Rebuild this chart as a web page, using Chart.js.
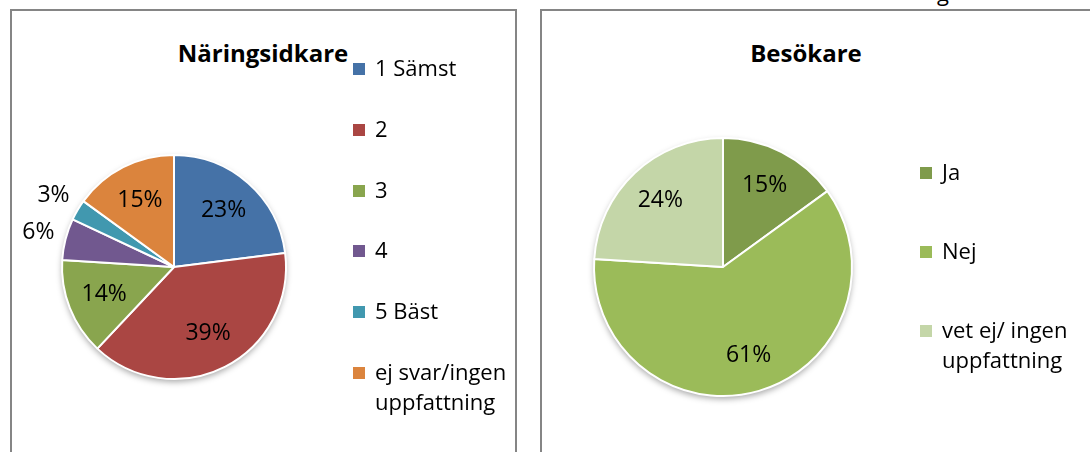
<!DOCTYPE html>
<html>
<head>
<meta charset="utf-8">
<script src="https://cdn.jsdelivr.net/npm/chart.js@4.4.0/dist/chart.umd.min.js"></script>
<style>
  body { margin:0; width:1090px; height:452px; overflow:hidden; background:#fff; position:relative; font-family:"Open Sans", sans-serif; color:#000; }
  .box { position:absolute; top:9px; height:480px; border:2px solid #858585; box-sizing:border-box; }
  #boxL { left:10px; width:507px; }
  #boxR { left:540px; width:600px; }
  .title { position:absolute; top:38px; font-size:24px; line-height:30px; font-weight:bold; text-align:center; }
  .item { position:absolute; font-size:22px; line-height:30px; padding-left:22px; max-width:150px; }
  .item .sw { position:absolute; left:0; top:11px; width:12px; height:12px; }
  canvas { position:absolute; }
  #cut { position:absolute; left:937px; top:-19px; font-size:22px; line-height:22px; font-family:"Open Sans", sans-serif; }
</style>
</head>
<body>
<div id="cut">g</div>
<div class="box" id="boxL"></div>
<div class="box" id="boxR"></div>
<div class="title" style="left:12px; width:502px;">Näringsidkare</div>
<div class="title" style="left:542px; width:528px;">Besökare</div>
<canvas id="chartL" width="502" height="441" style="left:12px; top:11px;"></canvas>
<canvas id="chartR" width="548" height="441" style="left:542px; top:11px;"></canvas>
<div id="legendL"></div>
<div id="legendR"></div>
<script>
// Näringsidkare
var naringLabels = ['1 Sämst', '2', '3', '4', '5 Bäst', 'ej svar/ingen uppfattning'];
var naringValues = [23, 39, 14, 6, 3, 15];
var naringColors = ['#4572A7', '#AA4643', '#89A54E', '#71588F', '#4198AF', '#DB843D'];

// Besökare
var besokLabels = ['Ja', 'Nej', 'vet ej/ ingen uppfattning'];
var besokValues = [15, 61, 24];
var besokColors = ['#7F9B4B', '#9BBB59', '#C4D6A8'];

var pieShadow = {
    id: 'pieShadow',
    beforeDatasetsDraw: function (chart) {
        var arc = chart.getDatasetMeta(0).data[0];
        if (!arc) return;
        var ctx = chart.ctx;
        ctx.save();
        ctx.shadowColor = 'rgba(0,0,0,0.35)';
        ctx.shadowBlur = 6;
        ctx.shadowOffsetY = 3;
        ctx.fillStyle = '#fff';
        ctx.beginPath();
        ctx.arc(arc.x, arc.y, arc.outerRadius, 0, Math.PI * 2);
        ctx.fill();
        ctx.restore();
    }
};

var pctLabels = {
    id: 'pctLabels',
    afterDatasetsDraw: function (chart, args, opts) {
        var ctx = chart.ctx;
        var meta = chart.getDatasetMeta(0);
        var values = chart.data.datasets[0].data;
        var total = values.reduce(function (a, b) { return a + b; }, 0);
        ctx.save();
        ctx.font = '23px "Open Sans", sans-serif';
        ctx.fillStyle = '#000';
        ctx.textAlign = 'center';
        ctx.textBaseline = 'middle';
        meta.data.forEach(function (arc, i) {
            var p = values[i] / total;
            var mid = (arc.startAngle + arc.endAngle) / 2;
            var r = arc.outerRadius * (p < 0.08 ? opts.outside : opts.inside);
            ctx.fillText(Math.round(p * 100) + '%', arc.x + Math.cos(mid) * r, arc.y + Math.sin(mid) * r);
        });
        ctx.restore();
    }
};

function grafico(id, labels, values, colors, padding, inside) {
    var ctx = document.getElementById(id);
    return new Chart(ctx, {
        type: 'pie',
        data: {
            labels: labels,
            datasets: [{
                data: values,
                backgroundColor: colors,
                borderColor: '#fff',
                borderWidth: 2
            }]
        },
        options: {
            responsive: false,
            animation: false,
            layout: { padding: padding },
            plugins: {
                legend: { display: false },
                tooltip: { enabled: false },
                pctLabels: { inside: inside, outside: 1.25 }
            }
        },
        plugins: [pieShadow, pctLabels]
    });
}

function legend(chart, id, left, top, pitch) {
    var el = document.getElementById(id);
    var items = chart.options.plugins.legend.labels.generateLabels(chart);
    items.forEach(function (it, i) {
        var d = document.createElement('div');
        d.className = 'item';
        d.style.left = left + 'px';
        d.style.top = (top + i * pitch) + 'px';
        var sw = document.createElement('span');
        sw.className = 'sw';
        sw.style.background = it.fillStyle;
        d.appendChild(sw);
        d.appendChild(document.createTextNode(it.text));
        el.appendChild(d);
    });
}

var cL = grafico('chartL', naringLabels, naringValues, naringColors,
    { left: 49, top: 143, right: 227, bottom: 72 }, 0.67);
var cR = grafico('chartR', besokLabels, besokValues, besokColors,
    { left: 51, top: 126, right: 237, bottom: 55 }, 0.71);

legend(cL, 'legendL', 353, 52, 60.8);
legend(cR, 'legendR', 920, 156, 79);
</script>
</body>
</html>
